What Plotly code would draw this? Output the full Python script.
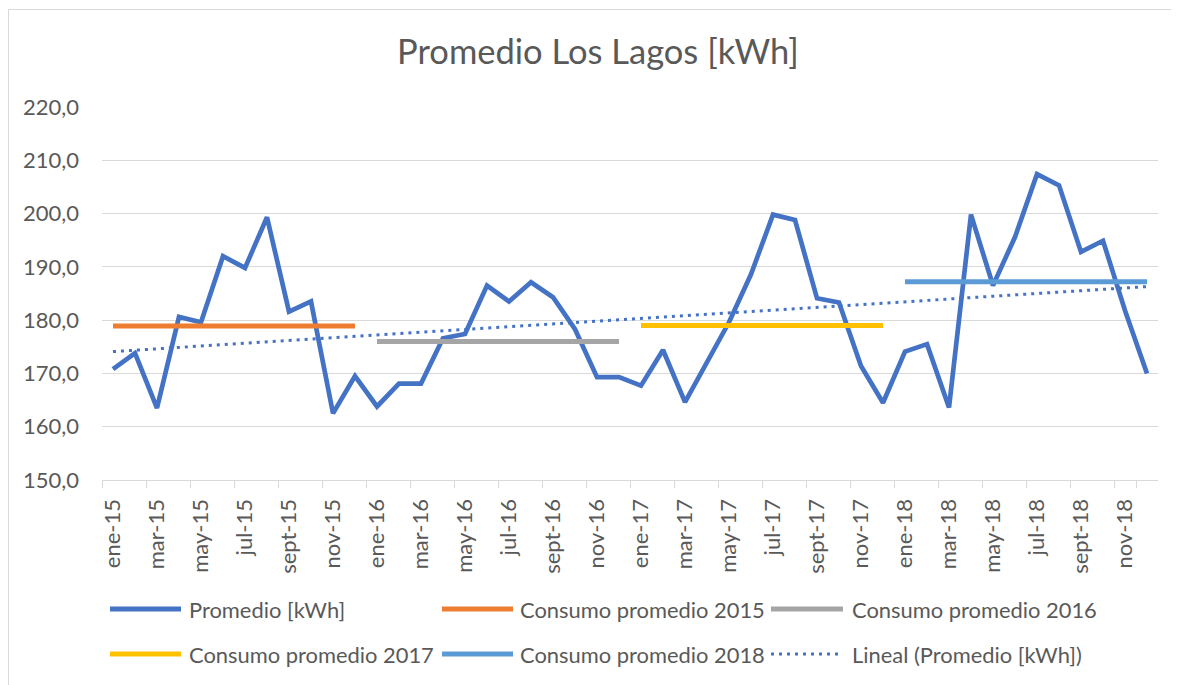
import plotly.graph_objects as go

# ---------------- data ----------------
month_names = ["ene", "feb", "mar", "abr", "may", "jun", "jul", "ago", "sept", "oct", "nov", "dic"]
years = ["15", "16", "17", "18"]
categories = [f"{m}-{y}" for y in years for m in month_names]

promedio = [
    170.8, 173.8, 163.5, 180.6, 179.6, 192.0, 189.8, 199.3, 181.6, 183.5, 162.5, 169.5,
    163.8, 168.1, 168.1, 176.6, 177.4, 186.5, 183.5, 187.1, 184.3, 178.3, 169.3, 169.3,
    167.7, 174.4, 164.6, 172.1, 179.6, 188.6, 199.8, 198.8, 184.1, 183.3, 171.4, 164.5,
    174.1, 175.5, 163.6, 199.8, 186.5, 195.6, 207.4, 205.3, 192.8, 194.9, 181.8, 170.0,
]

avg_2015 = 178.9
avg_2016 = 176.0
avg_2017 = 179.0
avg_2018 = 187.2

trend_ends = [174.1, 186.3]   # linear trend value at ene-15 and dic-18

tick_labels_shown = categories[::2]

series_names = [
    "Promedio [kWh]",
    "Consumo promedio 2015",
    "Consumo promedio 2016",
    "Consumo promedio 2017",
    "Consumo promedio 2018",
    "Lineal (Promedio [kWh])",
]

# ---------------- style ----------------
OFF = 8  # page body margin compensation
W, H = 1179 - OFF, 685 - OFF
PL, PR, PT, PB = 102 - OFF, 1158 - OFF, 107 - OFF, 480 - OFF
FONT = "Lato"
TXT = "#595959"
GRID = "#D9D9D9"
BLUE = "#4472C4"
ORANGE = "#ED7D31"
GRAY = "#A5A5A5"
YELLOW = "#FFC000"
LBLUE = "#5B9BD5"


def px2x(px):
    return (px - OFF - PL) / (PR - PL)


def py2y(py):
    return (PB - (py - OFF)) / (PB - PT)


fig = go.Figure()

fig.add_trace(go.Scatter(x=categories, y=promedio, mode="lines", name=series_names[0],
                         line=dict(color=BLUE, width=4.7), showlegend=False))

avgs = [avg_2015, avg_2016, avg_2017, avg_2018]
avg_colors = [ORANGE, GRAY, YELLOW, LBLUE]
for i, (a, c) in enumerate(zip(avgs, avg_colors)):
    cats = categories[i * 12:(i + 1) * 12]
    fig.add_trace(go.Scatter(x=cats, y=[a] * len(cats), mode="lines", name=series_names[i + 1],
                             line=dict(color=c, width=5), showlegend=False))

fig.add_trace(go.Scatter(x=[categories[0], categories[-1]], y=trend_ends, mode="lines",
                         name=series_names[5],
                         line=dict(color=BLUE, width=3, dash="3px,5px"), showlegend=False))

shapes = []
annotations = []

# chart border (left/top visible in the frame)
shapes.append(dict(type="rect", xref="paper", yref="paper",
                   x0=px2x(8.5), x1=px2x(1220), y0=py2y(9.5), y1=py2y(760),
                   line=dict(color=GRID, width=1), fillcolor="rgba(0,0,0,0)", layer="below"))

# custom legend
legend_rows = [609, 654]
legend_cols = [(110, 181, 187), (442, 513, 518), (771, 843, 850)]
legend_colors = [BLUE, ORANGE, GRAY, YELLOW, LBLUE, BLUE]
for k, name in enumerate(series_names):
    r, c = divmod(k, 3)
    x0, x1, xt = legend_cols[c]
    yy = py2y(legend_rows[r])
    if k == 5:
        ln = dict(color=BLUE, width=3, dash="3px,5px")
    else:
        ln = dict(color=legend_colors[k], width=5)
    shapes.append(dict(type="line", xref="paper", yref="paper",
                       x0=px2x(x0), x1=px2x(x1), y0=yy, y1=yy, line=ln))
    annotations.append(dict(xref="paper", yref="paper", x=px2x(xt), y=yy,
                            xanchor="left", yanchor="middle", showarrow=False,
                            text=name, font=dict(family=FONT, size=21.9, color=TXT)))

fig.update_layout(
    width=W, height=H,
    margin=dict(l=PL, r=W - PR, t=PT, b=H - PB, pad=0),
    paper_bgcolor="white", plot_bgcolor="white",
    separators=", ",
    title=dict(text="Promedio Los Lagos [kWh]", x=(598 - OFF) / W, xanchor="center",
               y=1 - (52 - OFF) / H, yanchor="middle", xref="container", yref="container",
               font=dict(family=FONT, size=34.5, color=TXT)),
    showlegend=False,
    shapes=shapes,
    annotations=annotations,
    xaxis=dict(type="category", categoryorder="array", categoryarray=categories,
               range=[-0.5, len(categories) - 0.5],
               tickmode="array", tickvals=tick_labels_shown, ticktext=tick_labels_shown,
               tickson="boundaries", ticks="outside", ticklen=7, tickcolor=GRID, tickwidth=1.3,
               showline=True, linecolor=GRID, linewidth=1.3, showgrid=False,
               ticklabelstandoff=9,
               tickangle=-90, tickfont=dict(family=FONT, size=22, color=TXT)),
    yaxis=dict(range=[150, 220], dtick=10, tickformat=".1f",
               showgrid=True, gridcolor=GRID, gridwidth=1.3,
               zeroline=False, showline=False, ticks="",
               ticklabelstandoff=22,
               tickfont=dict(family=FONT, size=22, color=TXT)),
)

fig.write_html("out.html")
